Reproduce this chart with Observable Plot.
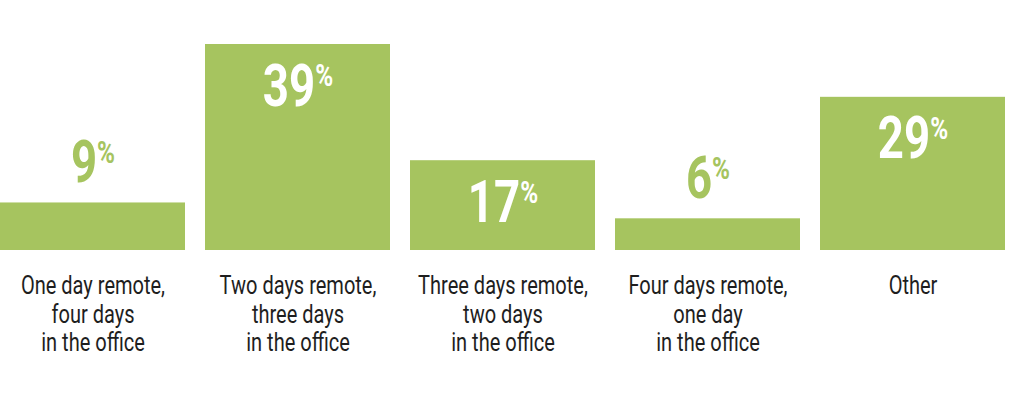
<!DOCTYPE html>
<html>
<head>
<meta charset="utf-8">
<script src="https://cdn.jsdelivr.net/npm/d3@7"></script>
<script src="https://cdn.jsdelivr.net/npm/@observablehq/plot@0.6"></script>
<style>
  html, body { margin: 0; padding: 0; background: #ffffff; }
  #chart svg { display: block; }
</style>
</head>
<body>
<div id="chart"></div>
<script>
const categories = [
  "One day remote,\nfour days\nin the office",
  "Two days remote,\nthree days\nin the office",
  "Three days remote,\ntwo days\nin the office",
  "Four days remote,\none day\nin the office",
  "Other"
];
const values = [9, 39, 17, 6, 29];

const data = categories.map((c, i) => ({category: c, value: values[i]}));
const inside = data.filter(d => d.value > 10);
const outside = data.filter(d => d.value <= 10);

const green = "#a6c45f";
const font = "Roboto, 'Liberation Sans', sans-serif";

const plot = Plot.plot({
  width: 1024,
  height: 420,
  marginLeft: 0,
  marginRight: 19,
  marginTop: 44,
  marginBottom: 170,
  style: {fontFamily: font, background: "#ffffff"},
  x: {domain: categories, paddingInner: 20 / 205, paddingOuter: 0, axis: null},
  y: {domain: [0, 39], axis: null},
  marks: [
    Plot.barY(data, {x: "category", y: "value", fill: green}),
    Plot.text(inside, {
      x: "category", y: "value", text: d => d.value + "%",
      dy: 61, lineAnchor: "bottom", fill: "#ffffff",
      fontSize: 60, fontWeight: "bold", className: "pct"
    }),
    Plot.text(outside, {
      x: "category", y: "value", text: d => d.value + "%",
      dy: -21, lineAnchor: "bottom", fill: green,
      fontSize: 60, fontWeight: "bold", className: "pct"
    }),
    Plot.text(data, {
      x: "category", y: 0, text: "category",
      dy: 23.5, lineAnchor: "top", lineHeight: 1.1,
      fill: "#1e1e1e", fontSize: 26, className: "cat"
    })
  ]
});

// Render the % sign as a small superscript
d3.select(plot).selectAll("g.pct text").each(function() {
  const t = this.textContent;
  const num = t.replace("%", "");
  const sel = d3.select(this);
  sel.text(num);
  sel.append("tspan").attr("font-size", 32).attr("dy", "-0.6em").text("%");
});

// Condense the type horizontally (the reference uses a condensed face)
function condense(selector, k) {
  d3.select(plot).selectAll(selector).each(function() {
    const tr = this.getAttribute("transform") || "";
    this.setAttribute("transform", tr + ` scale(${k},1)`);
  });
}
condense("g.pct text", 0.76);
condense("g.cat text", 0.77);

document.getElementById("chart").appendChild(plot);
</script>
</body>
</html>
